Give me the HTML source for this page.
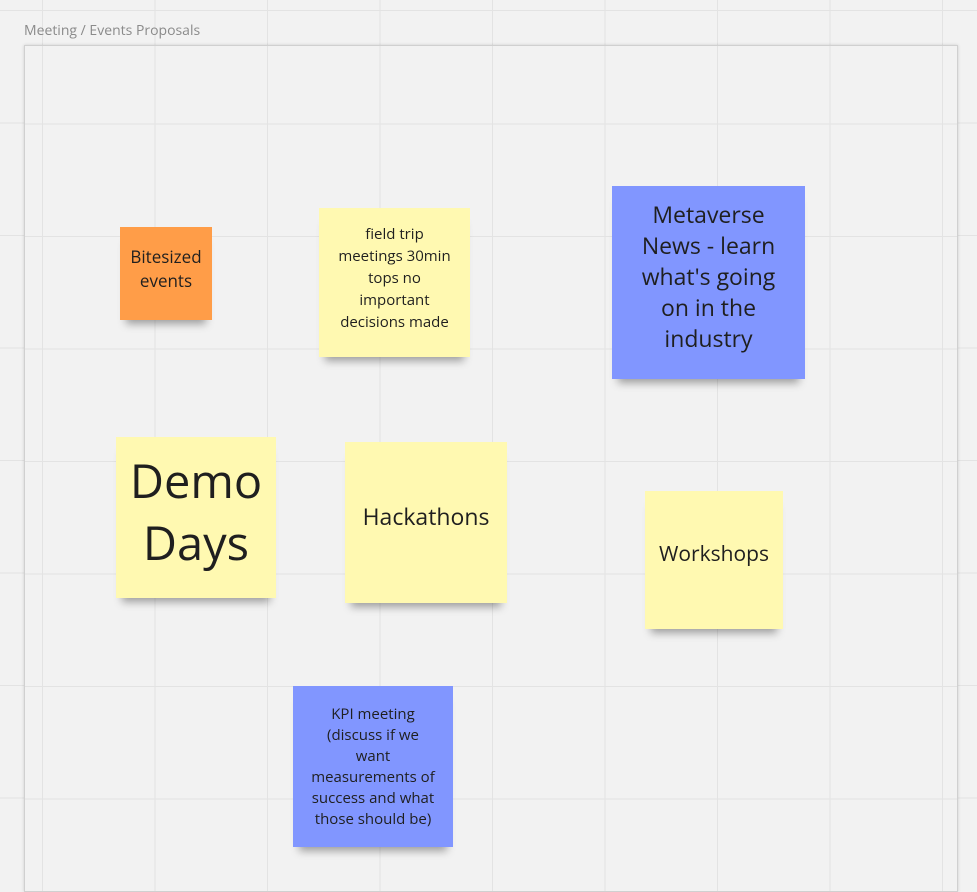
<!DOCTYPE html>
<html><head><style>
html,body{margin:0;padding:0;}
body{width:977px;height:884px;overflow:hidden;position:relative;background-color:#f2f2f2;
background-image:linear-gradient(#e3e3e3 1px,transparent 1px),linear-gradient(90deg,#e3e3e3 1px,transparent 1px);
background-size:112.5px 112.5px;background-position:42px 10px;font-family:"Open Sans","Liberation Sans",sans-serif;}
.title{position:absolute;left:24px;top:21px;font-size:14px;color:#8a8a8a;}
.frame{position:absolute;left:24px;top:45px;width:932px;height:845px;border:1px solid #d0d0d0;box-shadow:0 0 3px rgba(0,0,0,0.15);
background-color:#f2f2f2;background-image:linear-gradient(#e3e3e3 1px,transparent 1px),linear-gradient(90deg,#e3e3e3 1px,transparent 1px);
background-size:112.5px 112.5px;background-position:17px -35px;}
.n{position:absolute;display:flex;align-items:center;justify-content:center;text-align:center;color:#1f1f1f;box-sizing:border-box;padding:0 6px 10px 6px;
box-shadow:0 10px 8px -6px rgba(0,0,0,0.35);}
.y{background:#fff9b1;}
.b{background:#8196ff;}
.o{background:#ff9d48;}
</style></head><body>
<div class="title">Meeting / Events Proposals</div>
<div class="frame"></div>
<div class="n o" style="left:120px;top:227px;width:92px;height:93px;font-size:17px;line-height:24px;">Bitesized events</div>
<div class="n y" style="left:319px;top:208px;width:151px;height:149px;font-size:15px;line-height:22px;padding:0 14px 10px;">field trip meetings 30min tops no important decisions made</div>
<div class="n b" style="left:612px;top:186px;width:193px;height:193px;font-size:23px;line-height:31px;padding:0 22px 12px;">Metaverse News - learn what's going on in the industry</div>
<div class="n y" style="left:116px;top:437px;width:160px;height:161px;font-size:47px;line-height:62px;padding-bottom:14px;">Demo Days</div>
<div class="n y" style="left:345px;top:442px;width:162px;height:161px;font-size:23px;padding-bottom:14px;">Hackathons</div>
<div class="n y" style="left:645px;top:491px;width:138px;height:138px;font-size:21px;padding-bottom:12px;">Workshops</div>
<div class="n b" style="left:293px;top:686px;width:160px;height:161px;font-size:15px;line-height:21px;padding:0 15px 0;">KPI meeting (discuss if we want measurements of success and what those should be)</div>
</body></html>
